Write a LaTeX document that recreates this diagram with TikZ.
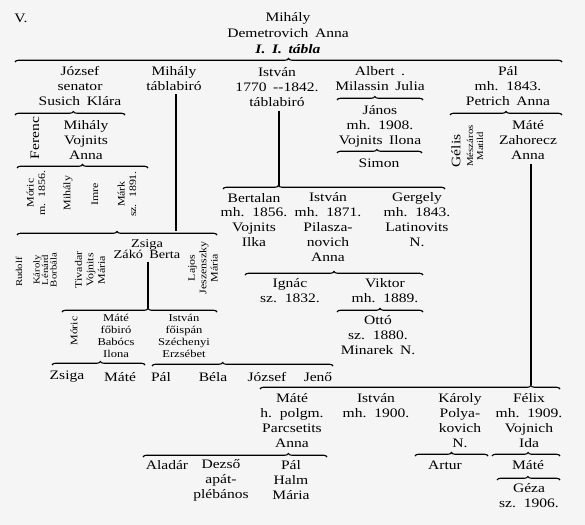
\documentclass[tikz,border=0pt]{standalone}
\usepackage{fontspec}
\setmainfont{Liberation Serif}[FakeStretch=1.2,WordSpace=1.7]
\usetikzlibrary{positioning,decorations.pathreplacing}
\tikzset{
  person/.style={align=center, inner sep=0pt, font=\fontsize{13}{15}\selectfont},
  minor/.style={align=center, inner sep=0pt, font=\fontsize{10.5}{12}\selectfont},
  rotlabel/.style={align=center, inner sep=0pt, rotate=90, font=\fontsize{10}{11.5}\selectfont},
  descent/.style={line width=1.2bp, draw=black},
  kinbrace/.style={decorate, line width=1.1bp, draw=black,
    decoration={brace, amplitude=3.5bp, aspect=#1}},
  kinbrace/.default=0.5
}
\definecolor{paper}{RGB}{245,245,245}

\begin{document}
\begin{tikzpicture}[x=1bp,y=-1bp]
  \fill[paper] (0,0) rectangle (585,525);
  \useasboundingbox (0,0) rectangle (585,525);
  \node[person] (vol) at (21,18) {V.};
  \node[person, font=\fontsize{13}{16}\selectfont] (root) at (288,33)
    {Mihály\\Demetrovich Anna\\\textbf{\textit{I. I. tábla}}};
  \node[person] (jozsef) at (80,86) {József\\senator\\Susich Klára};
  \node[person] (mihaly) at (174,79) {Mihály\\táblabiró};
  \node[person] (istvan) at (277,87) {István\\1770 -{}-1842.\\táblabiró};
  \node[person] (albert) at (380,79) {Albert .\\Milassin Julia};
  \node[person] (janos) at (380,126) {János\\mh. 1908.\\Vojnits Ilona};
  \node[person] (simon) at (379,163) {Simon};
  \node[person] (pal) at (508,86) {Pál\\mh. 1843.\\Petrich Anna};
  \node[person, rotate=90] (gelis) at (456,151) {Gélis};
  \node[rotlabel, font=\fontsize{9}{10}\selectfont] (meszaros) at (475,146) {Mészáros\\Matild};
  \node[person] (mate) at (528,140) {Máté\\Zahorecz\\Anna};
  \node[person, rotate=90] (ferenc) at (35,138) {Ferenc};
  \node[person] (mihalyv) at (86,140) {Mihály\\Vojnits\\Anna};
  \node[rotlabel] (moric) at (36,193) {Móric\\m. 1856.};
  \node[rotlabel] (mihalyj) at (68,193) {Mihály};
  \node[rotlabel] (imre) at (95,194) {Imre};
  \node[rotlabel] (mark) at (127,194) {Márk\\sz. 1891.};
  \node[rotlabel, font=\fontsize{9}{8.5}\selectfont] (rudolf) at (19,272) {Rudolf};
  \node[rotlabel, font=\fontsize{9}{8.5}\selectfont] (karoly) at (45,270) {Károly\\Lénárd\\Borbála};
  \node[rotlabel] (tivadar) at (90,270) {Tivadar\\Vojnits\\Mária};
  \node[person, font=\fontsize{12}{11.5}\selectfont] (zsiga) at (147,249) {Zsiga\\Zákó Berta};
  \node[rotlabel] (lajos) at (203,268) {Lajos\\Jeszenszky\\Mária};
  \node[rotlabel] (moricz) at (74,331) {Móric};
  \node[minor] (matef) at (116,336) {Máté\\főbiró\\Babócs\\Ilona};
  \node[minor] (istvanf) at (184,336) {István\\főispán\\Széchenyi\\Erzsébet};
  \node[person] (zsigag) at (67,377) {Zsiga};
  \node[person] (mateg) at (120,377) {Máté};
  \node[person] (palg) at (161,377) {Pál};
  \node[person] (bela) at (213,377) {Béla};
  \node[person] (jozsefg) at (267,377) {József};
  \node[person] (jeno) at (318,377) {Jenő};
  \node[person] (bertalan) at (254,220) {Bertalan\\mh. 1856.\\Vojnits\\Ilka};
  \node[person] (istvanp) at (328,227) {István\\mh. 1871.\\Pilasza-\\novich\\Anna};
  \node[person] (gergely) at (417,220) {Gergely\\mh. 1843.\\Latinovits\\N.};
  \node[person] (ignac) at (290,291) {Ignác\\sz. 1832.};
  \node[person] (viktor) at (385,291) {Viktor\\mh. 1889.};
  \node[person] (otto) at (378,335) {Ottó\\sz. 1880.\\Minarek N.};
  \node[person] (matep) at (292,420.5) {Máté\\h. polgm.\\Parcsetits\\Anna};
  \node[person] (istvanm) at (376,405.5) {István\\mh. 1900.};
  \node[person] (karolyp) at (460,420.5) {Károly\\Polya-\\kovich\\N.};
  \node[person] (felix) at (529,420.5) {Félix\\mh. 1909.\\Vojnich\\Ida};
  \node[person] (aladar) at (167,465) {Aladár};
  \node[person] (dezso) at (221,480) {Dezső\\apát-\\plébános};
  \node[person] (palh) at (291,480) {Pál\\Halm\\Mária};
  \node[person] (artur) at (445,465) {Artur};
  \node[person] (matev) at (528,465) {Máté};
  \node[person] (geza) at (529,495.5) {Géza\\sz. 1906.};

  \coordinate (b0a) at (15,62);   \coordinate (b0b) at (562,62);
  \coordinate (b1a) at (15,115);  \coordinate (b1b) at (125,115);
  \coordinate (b2a) at (17,168);  \coordinate (b2b) at (148,168);
  \coordinate (b3a) at (17,235);  \coordinate (b3b) at (217,235);
  \coordinate (b4a) at (337,100); \coordinate (b4b) at (423,100);
  \coordinate (b5a) at (337,153); \coordinate (b5b) at (422,153);
  \coordinate (b6a) at (223,189); \coordinate (b6b) at (445,189);
  \coordinate (b7a) at (450,115); \coordinate (b7b) at (562,115);
  \coordinate (b8a) at (62,312);  \coordinate (b8b) at (217,312);
  \coordinate (b9a) at (52,365);  \coordinate (b9b) at (145,365);
  \coordinate (b10a) at (152,366); \coordinate (b10b) at (333,366);
  \coordinate (b11a) at (245,275); \coordinate (b11b) at (423,275);
  \coordinate (b12a) at (337,312); \coordinate (b12b) at (423,312);
  \coordinate (b13a) at (260,389); \coordinate (b13b) at (560,389);
  \coordinate (b14a) at (143,457); \coordinate (b14b) at (327,457);
  \coordinate (b15a) at (415,456); \coordinate (b15b) at (488,456);
  \coordinate (b16a) at (492,456); \coordinate (b16b) at (560,456);
  \coordinate (b17a) at (497,480); \coordinate (b17b) at (560,480);
  \draw[kinbrace] (b0a) -- (b0b);
  \draw[kinbrace=0.53] (b1a) -- (b1b);
  \draw[kinbrace] (b2a) -- (b2b);
  \draw[kinbrace] (b3a) -- (b3b);
  \draw[kinbrace=0.44] (b4a) -- (b4b);
  \draw[kinbrace=0.47] (b5a) -- (b5b);
  \draw[kinbrace=0.25] (b6a) -- (b6b);
  \draw[kinbrace] (b7a) -- (b7b);
  \draw[kinbrace=0.555] (b8a) -- (b8b);
  \draw[kinbrace=0.52] (b9a) -- (b9b);
  \draw[kinbrace=0.39] (b10a) -- (b10b);
  \draw[kinbrace] (b11a) -- (b11b);
  \draw[kinbrace] (b12a) -- (b12b);
  \draw[kinbrace=0.903] (b13a) -- (b13b);
  \draw[kinbrace=0.79] (b14a) -- (b14b);
  \draw[kinbrace] (b15a) -- (b15b);
  \draw[kinbrace=0.53] (b16a) -- (b16b);
  \draw[kinbrace=0.49] (b17a) -- (b17b);

  \coordinate (m1) at (176,231);
  \coordinate (i1) at (279,186);
  \coordinate (z1) at (148,308);
  \coordinate (m2) at (531,385);
  \draw[descent] (mihaly.south -| m1) ++(0,3) -- (m1);
  \draw[descent] (istvan.south -| i1) ++(0,4) -- (i1);
  \draw[descent] (zsiga.south -| z1) ++(0,3) -- (z1);
  \draw[descent] (mate.south -| m2) ++(0,4) -- (m2);
\end{tikzpicture}
\end{document}
